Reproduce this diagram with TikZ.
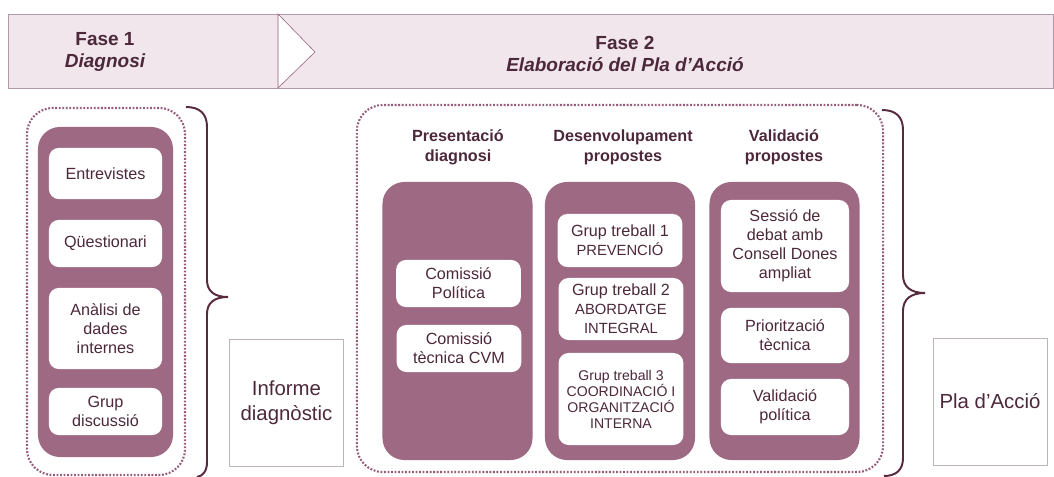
\documentclass[tikz,border=0pt]{standalone}
\usepackage{fontspec}
\setmainfont{Liberation Sans}
\usepackage{tikz}
\usetikzlibrary{positioning}
\definecolor{plum}{RGB}{158,105,131}
\definecolor{dotplum}{RGB}{150,92,122}
\definecolor{braceplum}{RGB}{88,42,64}
\definecolor{ink}{RGB}{76,40,58}
\definecolor{barfill}{RGB}{240,230,235}
\definecolor{barline}{RGB}{178,155,168}
\definecolor{boxline}{RGB}{192,178,187}

\begin{document}
\begin{tikzpicture}[
  x=0.025cm, y=-0.025cm,
  every node/.style={text=ink, align=center, inner sep=2pt},
  phasebar/.style={draw=barline, fill=barfill, minimum width=26.125cm, minimum height=1.85cm},
  phasetitle/.style={font=\fontsize{13.5}{16}\selectfont\bfseries},
  group/.style={draw=dotplum, line width=1.5pt, dash pattern=on 1.3pt off 1.2pt, rounded corners=0.65cm},
  column/.style={fill=plum, rounded corners=0.55cm, minimum width=3.75cm, minimum height=6.95cm},
  activity/.style={fill=white, rounded corners=0.25cm, minimum width=3.12cm,
                   font=\fontsize{11.5}{13.6}\selectfont},
  heading/.style={font=\fontsize{11.5}{14}\selectfont\bfseries},
  result/.style={draw=boxline, minimum width=2.84cm, minimum height=3.18cm,
                 font=\fontsize{14.5}{17.5}\selectfont},
  brace/.style={draw=braceplum, line width=1.4pt}
]
\useasboundingbox (0,0) rectangle (1054,477);

% --- Phase bar ---
\node[phasebar] (bar) at (530.5,51) {};
\draw[draw=dotplum, fill=white, line width=0.4pt] (278,14) -- (315,52) -- (278,88) -- cycle;
\node[phasetitle] (fase1) at (105,52) {Fase 1\\{\itshape Diagnosi}};
\node[phasetitle] (fase2) at (625,54) {Fase 2\\{\itshape Elaboració del Pla d’Acció}};

% --- Fase 1: diagnosi ---
\node[group, minimum width=3.95cm, minimum height=9.175cm] (diaggroup) at (106,291.5) {};
\node[column, minimum width=3.375cm, minimum height=8.25cm] (diagcol) at (105.5,292) {};
\node[activity, minimum width=2.83cm, minimum height=1.28cm] (entrevistes) at (105.5,173.5) {Entrevistes};
\node[activity, minimum width=2.83cm, minimum height=1.18cm] (questionari) at (105.5,243.5) {Qüestionari};
\node[activity, minimum width=2.83cm, minimum height=2.03cm] (analisi) at (105.5,328.5) {Anàlisi de\\dades\\internes};
\node[activity, minimum width=2.83cm, minimum height=1.18cm] (discussio) at (105.5,411.5) {Grup\\discussió};

\draw[brace] (186,107) .. controls (200,107) and (207,114) .. (207,127) -- (207,280)
  .. controls (207,291) and (214,297) .. (228,297)
  .. controls (214,297) and (207,303) .. (207,314) -- (207,462)
  .. controls (207,471) and (203,476) .. (197,477);

\node[result] (informe) at (286.5,402.5) {Informe\\diagnòstic};

% --- Fase 2: elaboracio ---
\node[group, minimum width=13.15cm, minimum height=9.175cm] (elabgroup) at (620,288.5) {};

\node[heading] (preshead) at (458,147) {Presentació\\diagnosi};
\node[heading] (devhead) at (623,147) {Desenvolupament\\propostes};
\node[heading] (valhead) at (784,147) {Validació\\propostes};

\node[column] (prescol) at (457.5,321) {};
\node[column] (devcol) at (620,321) {};
\node[column] (valcol) at (784.5,321) {};

% presentacio
\node[activity, minimum height=1.18cm] (politica) at (458.5,283.5) {Comissió\\Política};
\node[activity, minimum height=1.18cm] (tecnica) at (459,348.5) {Comissió\\tècnica CVM};

% desenvolupament
\node[activity, minimum height=1.33cm] (gt1) at (620,240.5)
  {Grup treball 1\\{\fontsize{10.5}{13}\selectfont PREVENCIÓ}};
\node[activity, minimum height=1.55cm] (gt2) at (621,309)
  {Grup treball 2\\{\fontsize{10.5}{13}\selectfont ABORDATGE}\\{\fontsize{10.5}{13}\selectfont INTEGRAL}};
\node[activity, minimum height=2.3cm, font=\fontsize{10}{11.4}\selectfont] (gt3) at (621,399)
  {Grup treball 3\\COORDINACIÓ I\\ORGANITZACIÓ\\INTERNA};

% validacio
\node[activity, minimum width=3.2cm, minimum height=2.3cm] (sessio) at (785,246)
  {Sessió de\\debat amb\\Consell Dones\\ampliat};
\node[activity, minimum width=3.2cm, minimum height=1.38cm] (prioritzacio) at (785,335.5) {Priorització\\tècnica};
\node[activity, minimum width=3.2cm, minimum height=1.4cm] (validacio) at (785,407) {Validació\\política};

\draw[brace] (882,110) .. controls (896,110) and (903,117) .. (903,130) -- (903,275)
  .. controls (903,287) and (911,293) .. (925,293)
  .. controls (911,293) and (903,299) .. (903,311) -- (903,458)
  .. controls (903,470) and (896,476) .. (884,476);

\node[result] (pla) at (990,401.5) {Pla d’Acció};

\end{tikzpicture}
\end{document}
